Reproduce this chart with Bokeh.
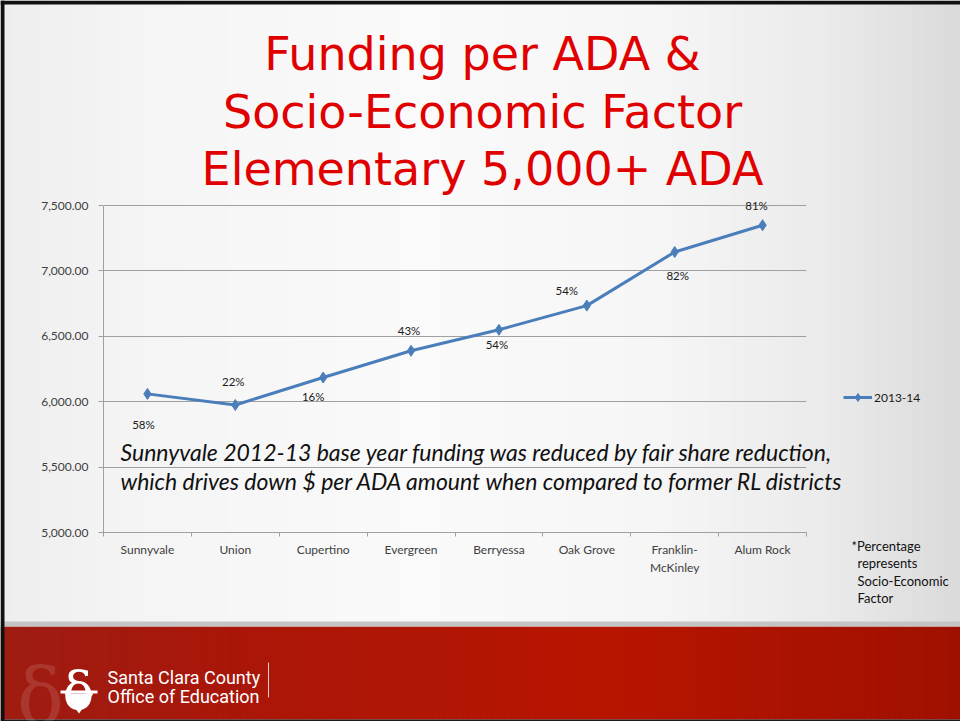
from bokeh.plotting import figure
from bokeh.layouts import column
from bokeh.models import (FactorRange, Range1d, LinearAxis, CategoricalAxis, FixedTicker,
                          NumeralTickFormatter, LabelSet, Legend, LegendItem,
                          ColumnDataSource)
from bokeh.core.properties import value
from bokeh.embed import file_html
from bokeh.resources import INLINE

# ---------------- data ----------------
districts = ["Sunnyvale", "Union", "Cupertino", "Evergreen", "Berryessa",
             "Oak Grove", "Franklin-\nMcKinley", "Alum Rock"]
funding_per_ada = [6060, 5975, 6185, 6390, 6550, 6735, 7145, 7350]
socio_economic_pct = ["58%", "22%", "16%", "43%", "54%", "54%", "82%", "81%"]
series_name = "2013-14"
y_ticks = [5000, 5500, 6000, 6500, 7000, 7500]
title_lines = ["Funding per ADA &", "Socio-Economic Factor", "Elementary 5,000+ ADA"]
note_lines = ["Sunnyvale 2012-13 base year funding was reduced by fair share reduction,",
              "which drives down $ per ADA amount when compared to former RL districts"]
footnote_lines = ["*Percentage", "represents", "Socio-Economic", "Factor"]
org_lines = ["Santa Clara County", "Office of Education"]

# label placement style (pixel nudges of the % labels, positive = up)
pct_dx = [-4, -2, -10, -2, -2, -20, 3, -6]
pct_dy = [-31, 24, -19, 20, -15, 15, -23, 20]

W, H = 960, 721
BLUE = "#4a7ebb"
GRID = "#a0a0a0"
TXT = "#404040"
MARKER = dict(marker="diamond", size=11, fill_color=BLUE, line_color=BLUE)

# ================= slide (background layer) =================
bg = figure(width=W, height=H, x_range=Range1d(0, W), y_range=Range1d(H, 0),
            x_axis_type=None, y_axis_type=None, output_backend="svg",
            toolbar_location=None, min_border=0, frame_align=False)
bg.grid.visible = False
bg.outline_line_color = None
bg.background_fill_color = "#f2f2f2"
bg.border_fill_color = "#f2f2f2"


def lerp(stops, x):
    for (x0, c0), (x1, c1) in zip(stops[:-1], stops[1:]):
        if x0 <= x <= x1:
            t = (x - x0) / (x1 - x0)
            c = [int(round(a + (b - a) * t)) for a, b in zip(c0, c1)]
            return "#%02x%02x%02x" % tuple(c)
    return "#%02x%02x%02x" % stops[-1][1]


step = 12
xs0 = list(range(0, W, step))
bg_stops = [(0, (238, 238, 238)), (150, (245, 245, 245)), (420, (250, 250, 250)),
            (650, (246, 246, 246)), (830, (234, 234, 234)), (960, (218, 218, 218))]
bg.quad(left=xs0, right=[x + step + 0.5 for x in xs0], top=0, bottom=622,
        fill_color=[lerp(bg_stops, x + step / 2) for x in xs0], line_color=None)
ft_stops = [(0, (158, 28, 18)), (250, (170, 22, 8)), (600, (183, 21, 0)), (960, (160, 16, 0))]
bg.quad(left=xs0, right=[x + step + 0.5 for x in xs0], top=626, bottom=719,
        fill_color=[lerp(ft_stops, x + step / 2) for x in xs0], line_color=None)
bg.quad(left=0, right=W, top=621, bottom=626, fill_color="#c4c4c4", line_color=None)
bg.quad(left=0, right=W, top=719, bottom=H, fill_color="#1a1a1a", line_color=None)
bg.quad(left=0, right=4, top=0, bottom=H, fill_color="#111111", line_color=None)
bg.quad(left=0, right=W, top=0, bottom=4, fill_color="#111111", line_color=None)

# title
bg.text(x=[482] * 3, y=[53.5, 111, 168.5], text=title_lines, text_align="center",
        text_baseline="alphabetic", text_font=value("DejaVu Sans"),
        text_font_size="46px", text_color="#e00000")
# explanatory note
bg.text(x=[120] * 2, y=[451, 480], text=note_lines, text_align="left",
        text_baseline="middle", text_font=value("Lato"), text_font_style="italic",
        text_font_size="23px", text_color="#111111")
# footnote
bg.text(x=[851, 857, 857, 857], y=[545, 562.5, 580, 597.5], text=footnote_lines,
        text_align="left", text_baseline="middle", text_font=value("Lato"),
        text_font_size="13px", text_color="#111111")

# legend of the series (drawn on the slide layer with the series' styling;
# the proxy renderers sit off-canvas so only their legend entry shows)
lg_line = bg.line(x=[-60, -40], y=[-60, -60], line_color=BLUE, line_width=3)
lg_mark = bg.scatter(x=[-50], y=[-60], **MARKER)
bg.add_layout(Legend(items=[LegendItem(label=series_name, renderers=[lg_line, lg_mark])],
                     location=(843, H - 407), glyph_width=29, glyph_height=20,
                     label_height=20, label_standoff=2, padding=0, spacing=0, margin=0,
                     border_line_color=None, background_fill_alpha=0,
                     label_text_font="Lato", label_text_font_size="12px",
                     label_text_color="#1a1a1a"))

# footer logo & organisation name
bg.text(x=[40], y=[696], text=["δ"], text_align="center", text_baseline="alphabetic",
        text_font=value("DejaVu Serif"), text_font_size="78px", text_color="#ffffff",
        text_alpha=0.12)
bg.text(x=[78], y=[690], text=["δ"], text_align="center", text_baseline="alphabetic",
        text_font=value("DejaVu Serif"), text_font_size="52px", text_color="#ffffff")
bg.quad(left=60, right=97, top=690, bottom=693, fill_color="#ffffff", line_color=None)
bg.patch(x=[64, 93, 78.5], y=[693, 693, 713], fill_color="#ffffff", line_color=None)
bg.quad(left=267.5, right=268.5, top=662, bottom=697, fill_color="#ffffff",
        fill_alpha=0.8, line_color=None)
bg.text(x=[107, 107], y=[677, 696], text=org_lines, text_align="left",
        text_baseline="alphabetic", text_font=value("Roboto"),
        text_font_size="18px", text_color="#ffffff")

# ================= chart layer =================
FL, FR, FB = 103, 806, 532
px_per_unit = (532 - 205) / (y_ticks[-1] - y_ticks[0])
y_top = 7600
FT = FB - (y_top - y_ticks[0]) * px_per_unit

p = figure(width=W, height=H, x_range=FactorRange(*districts),
           y_range=Range1d(y_ticks[0], y_top), x_axis_type=None,
           output_backend="svg", toolbar_location=None, frame_align=False,
           min_border_left=FL, min_border_right=W - FR,
           min_border_top=int(round(FT)), min_border_bottom=H - FB)
p.outline_line_color = None
p.background_fill_alpha = 0
p.border_fill_alpha = 0
p.margin = (-H, 0, 0, 0)

yax = p.yaxis[0]
yax.ticker = FixedTicker(ticks=y_ticks)
yax.bounds = (y_ticks[0], y_ticks[-1])
yax.formatter = NumeralTickFormatter(format="0,0.00")
yax.axis_line_color = GRID
yax.major_tick_line_color = GRID
yax.major_tick_out = 5
yax.major_tick_in = 0
yax.minor_tick_line_color = None
yax.major_label_standoff = 10
yax.major_label_text_font = "Lato"
yax.major_label_text_font_size = "12px"
yax.major_label_text_color = TXT

p.ygrid.ticker = FixedTicker(ticks=y_ticks)
p.ygrid.grid_line_color = GRID
p.ygrid.grid_line_width = 1

# boundary ticks between categories (synthetic category coordinates 0..n)
tick_axis = LinearAxis(ticker=FixedTicker(ticks=list(range(len(districts) + 1))),
                       axis_line_color=GRID, major_tick_line_color=GRID,
                       major_tick_out=4, major_tick_in=0, minor_tick_line_color=None,
                       major_label_text_font_size="1px", major_label_text_alpha=0,
                       major_label_standoff=0)
p.add_layout(tick_axis, "below")
cat_axis = CategoricalAxis(axis_line_color=None, major_tick_line_color=None,
                           minor_tick_line_color=None, major_tick_out=0, major_tick_in=0,
                           major_label_standoff=5, major_label_text_font="Lato",
                           major_label_text_font_size="12px", major_label_text_color=TXT)
p.add_layout(cat_axis, "below")

src = ColumnDataSource(dict(x=districts, y=funding_per_ada, pct=socio_economic_pct,
                            dx=pct_dx, dy=pct_dy))
p.line("x", "y", source=src, line_color=BLUE, line_width=3)
p.scatter("x", "y", source=src, **MARKER)
p.add_layout(LabelSet(x="x", y="y", text="pct", x_offset="dx", y_offset="dy", source=src,
                      text_align="center", text_baseline="middle",
                      text_font=value("Lato"), text_font_size="11.5px",
                      text_color="#1a1a1a"))

page = column(bg, p, spacing=0)
open("out.html", "w").write(file_html(page, INLINE))
